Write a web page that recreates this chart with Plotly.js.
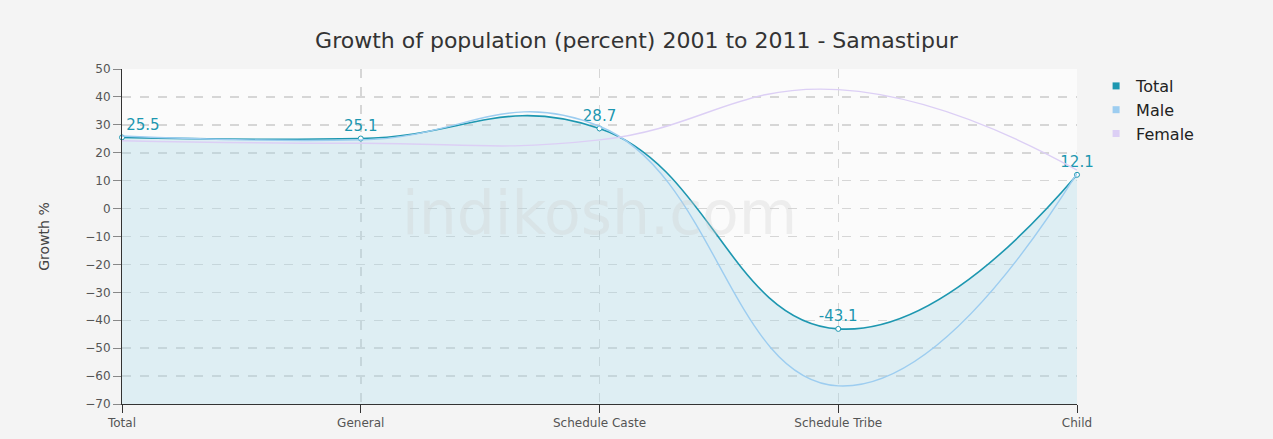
<!DOCTYPE html>
<html>
<head>
<meta charset="utf-8">
<script src="https://cdn.plot.ly/plotly-3.0.1.min.js"></script>
<style>html,body{margin:0;padding:0;background:#fff;}#chart{width:1273px;height:439px;}</style>
</head>
<body>
<div id="chart"></div>
<script>
const categories = ["Total", "General", "Schedule Caste", "Schedule Tribe", "Child"];
const totalValues = [25.5, 25.1, 28.7, -43.1, 12.1];
const maleValues = [26.0, 24.6, 29.5, -63.5, 12.6];
const femaleValues = [24.3, 23.4, 24.6, 42.6, 13.8];
const yTicks = [50, 40, 30, 20, 10, 0, -10, -20, -30, -40, -50, -60, -70];
const yMin = -70, yMax = 50;
const seriesNames = ["Total", "Male", "Female"];
const seriesColors = ["#1d97b0", "#9dcdf0", "#dccff5"];

const xIdx = categories.map((c, i) => i);
const baseline = categories.map(() => yMin);
const SM = 1.3;

const traces = [
  {x: xIdx, y: baseline, mode: 'lines', line: {width: 0, color: 'rgba(0,0,0,0)'}, showlegend: false, hoverinfo: 'skip'},
  {x: xIdx, y: totalValues, name: 'Total', mode: 'lines+markers+text', fill: 'tonexty', showlegend: false, cliponaxis: false,
   fillcolor: 'rgba(170,215,230,0.35)', line: {color: seriesColors[0], width: 1.6, shape: 'spline', smoothing: SM},
   marker: {size: 5, color: '#ffffff', line: {color: seriesColors[0], width: 1}},
   text: totalValues.map(v => String(v)),
   textposition: ['top right', 'top center', 'top center', 'top center', 'top center'],
   textfont: {family: 'DejaVu Sans', size: 15, color: seriesColors[0]}},
  {x: xIdx, y: maleValues, name: 'Male', mode: 'lines', showlegend: false, line: {color: seriesColors[1], width: 1.4, shape: 'spline', smoothing: SM}},
  {x: xIdx, y: femaleValues, name: 'Female', mode: 'lines', showlegend: false, line: {color: seriesColors[2], width: 1.4, shape: 'spline', smoothing: SM}}
];
seriesNames.forEach((n, i) => traces.push({x: [null], y: [null], name: n, mode: 'markers', showlegend: true,
  marker: {symbol: 'square', size: 7, color: seriesColors[i]}}));

const layout = {
  width: 1273, height: 439,
  paper_bgcolor: '#f4f4f4', plot_bgcolor: '#fbfbfb',
  margin: {l: 122, r: 196, t: 69, b: 35},
  title: {text: 'Growth of population (percent) 2001 to 2011 - Samastipur', x: 0.5, xanchor: 'center', y: 0.925,
          font: {family: 'DejaVu Sans', size: 22, color: '#333'}},
  xaxis: {type: 'linear', range: [0, 4], tickvals: xIdx, ticktext: categories, showgrid: true,
          gridcolor: '#d6d6d6', griddash: 'dash', gridwidth: 1.5, zeroline: false,
          showline: true, linecolor: '#333', ticks: 'outside', ticklen: 8, tickcolor: '#333',
          tickfont: {family: 'DejaVu Sans', size: 12, color: '#555'}},
  yaxis: {range: [yMin, yMax], tickvals: yTicks, showgrid: true, gridcolor: '#d6d6d6', griddash: 'dash', gridwidth: 1.5,
          zeroline: false, showline: true, linecolor: '#333', ticks: 'outside', ticklen: 8, tickcolor: '#888',
          tickfont: {family: 'DejaVu Sans', size: 12, color: '#555'},
          title: {text: 'Growth %', font: {family: 'DejaVu Sans', size: 14, color: '#444'}, standoff: 32}},
  legend: {x: 1.02, y: 1.0, xanchor: 'left', yanchor: 'top', bgcolor: 'rgba(0,0,0,0)', traceorder: 'normal',
           font: {family: 'DejaVu Sans', size: 16, color: '#222'}, tracegroupgap: 0},
  annotations: [{text: 'indikosh.com', xref: 'paper', yref: 'paper', x: 0.5, y: 0.57, showarrow: false,
                 font: {family: 'DejaVu Sans', size: 60, color: 'rgba(205,205,205,0.3)'}}],
  showlegend: true
};

Plotly.newPlot('chart', traces, layout, {displayModeBar: false, staticPlot: true});
</script>
</body>
</html>
